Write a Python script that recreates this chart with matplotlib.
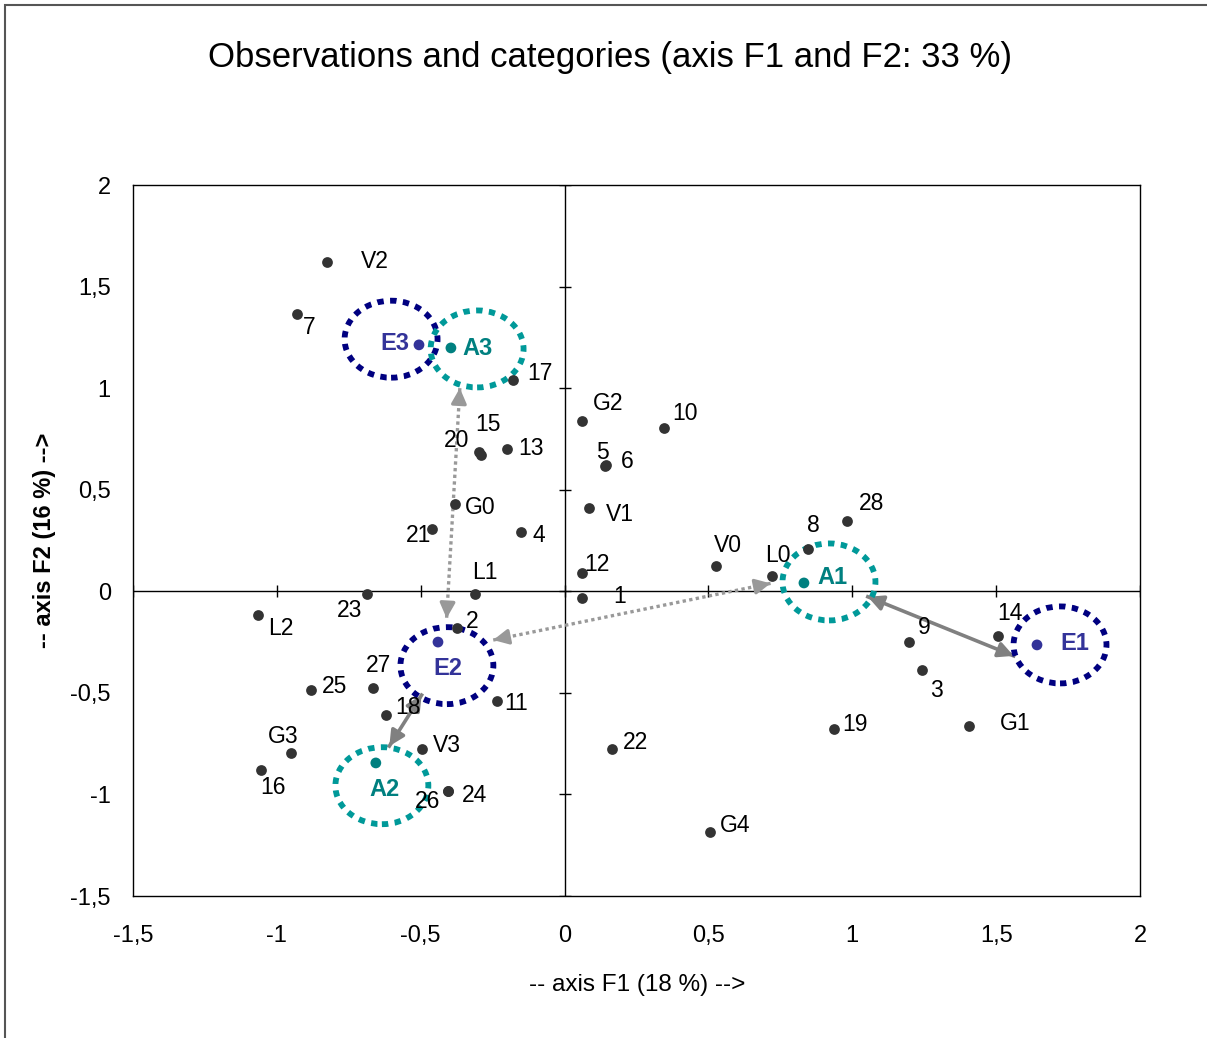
import matplotlib
matplotlib.use('Agg')
import matplotlib.pyplot as plt
from matplotlib.patches import Ellipse, Rectangle
from matplotlib.ticker import FuncFormatter
import numpy as np

plt.rcParams['font.family'] = ['Liberation Sans', 'DejaVu Sans']

# observations (F1, F2)
obs_labels = ['V2', '7', '17', '15', '20', '13', 'G0', '21', '4', 'L1', '23', '2',
              'L2', '27', '25', '18', '11', 'G3', '16', 'V3', '24', '26',
              'G2', '10', '5', '6', 'V1', '12', '1', 'V0', 'L0', '8', '28',
              '9', '3', '14', '19', 'G1', '22', 'G4']
obs_x = [-0.826, -0.930, -0.179, -0.297, -0.290, -0.200, -0.381, -0.461, -0.152, -0.311, -0.687, -0.374,
         -1.066, -0.666, -0.881, -0.621, -0.235, -0.951, -1.055, -0.496, -0.405, -0.405,
         0.060, 0.345, 0.140, 0.144, 0.085, 0.060, 0.060, 0.526, 0.721, 0.846, 0.982,
         1.197, 1.242, 1.506, 0.936, 1.406, 0.165, 0.505]
obs_y = [1.621, 1.364, 1.040, 0.686, 0.671, 0.701, 0.430, 0.307, 0.292, -0.013, -0.013, -0.181,
         -0.117, -0.475, -0.484, -0.608, -0.540, -0.796, -0.880, -0.776, -0.984, -0.984,
         0.838, 0.804, 0.617, 0.622, 0.410, 0.090, -0.033, 0.125, 0.075, 0.208, 0.346,
         -0.250, -0.388, -0.220, -0.678, -0.663, -0.776, -1.185]

# categories (supplementary)
cat_labels = ['E3', 'A3', 'E2', 'A2', 'A1', 'E1']
cat_x = [-0.506, -0.395, -0.440, -0.656, 0.832, 1.642]
cat_y = [1.213, 1.198, -0.250, -0.845, 0.041, -0.264]

xticks = [-1.5, -1, -0.5, 0, 0.5, 1, 1.5, 2]
yticks = [-1.5, -1, -0.5, 0, 0.5, 1, 1.5, 2]

# label offsets in pixels (dx right, dy down) from the point to the text centre
obs_off = {'V2': (48, 0), '7': (12, 13), '17': (27, -7), '15': (9, -27), '20': (-25, -14),
           '13': (24, 0), 'G0': (25, 4), '21': (-13, 7), '4': (18, 4), 'L1': (10, -21),
           '23': (-17, 17), '2': (15, -7), 'L2': (23, 13), '27': (6, -22), '25': (23, -3),
           '18': (22, -7), '11': (19, 3), 'G3': (-8, -16), '16': (12, 17), 'V3': (25, -3),
           '24': (26, 4), '26': (-20, 10), 'G2': (26, -18), '10': (21, -14), '5': (-2, -13),
           '6': (21, -3), 'V1': (31, 7), '12': (15, -9), '1': (38, -1), 'V0': (12, -20),
           'L0': (6, -21), '8': (5, -24), '28': (24, -17), '9': (15, -15), '3': (15, 20),
           '14': (12, -22), '19': (21, -5), 'G1': (46, -2), '22': (23, -6), 'G4': (25, -7)}
cat_off = {'E3': (-24, -1), 'A3': (27, 1), 'E2': (10, 26), 'A2': (9, 27), 'A1': (29, -5), 'E1': (38, -1)}

E_col = '#333399'
A_col = '#008080'
E_ring = '#000080'
A_ring = '#009999'

W, H = 1207, 1038
fig = plt.figure(figsize=(W / 100, H / 100), dpi=100)
ax = fig.add_axes([133 / W, 1 - 896 / H, (1140 - 133) / W, (896 - 185) / H])
ax.set_xlim(-1.5, 2)
ax.set_ylim(-1.5, 2)

for s in ax.spines.values():
    s.set_linewidth(1.0)
    s.set_color('black')

fmt = FuncFormatter(lambda v, p: ('%g' % v).replace('.', ','))
ax.set_xticks(xticks)
ax.set_yticks(yticks)
ax.xaxis.set_major_formatter(fmt)
ax.yaxis.set_major_formatter(fmt)
ax.tick_params(axis='x', length=0, pad=21, labelsize=17)
ax.tick_params(axis='y', length=0, pad=16, labelsize=17)

# zero axes with crossing ticks
ax.axhline(0, color='black', lw=1.0, zorder=1)
ax.axvline(0, color='black', lw=1.0, zorder=1)
ax.plot(xticks, np.zeros(len(xticks)), ls='none', marker='|', ms=9, mew=1.0, color='black', zorder=1)
ax.plot(np.zeros(len(yticks)), yticks, ls='none', marker='_', ms=9, mew=1.0, color='black', zorder=1)

# observation points
ax.scatter(obs_x, obs_y, s=60, color='#333333', zorder=4, linewidths=0)
for lab, x, y in zip(obs_labels, obs_x, obs_y):
    dx, dy = obs_off[lab]
    ax.annotate(lab, (x, y), xytext=(dx * 0.72, -dy * 0.72), textcoords='offset points',
                ha='center', va='center', fontsize=16.5, color='black', zorder=5)

# category points
cat_cols = [E_col if c.startswith('E') else A_col for c in cat_labels]
ax.scatter(cat_x, cat_y, s=60, color=cat_cols, zorder=4, linewidths=0)
for lab, x, y, c in zip(cat_labels, cat_x, cat_y, cat_cols):
    dx, dy = cat_off[lab]
    ax.annotate(lab, (x, y), xytext=(dx * 0.72, -dy * 0.72), textcoords='offset points',
                ha='center', va='center', fontsize=17, fontweight='bold', color=c, zorder=5)

# dotted rings around categories
rings = [((-0.603, 1.241), E_ring), ((-0.304, 1.193), A_ring), ((-0.409, -0.366), E_ring),
         ((-0.635, -0.957), A_ring), ((0.919, 0.046), A_ring), ((1.722, -0.264), E_ring)]
for (cx, cy), col in rings:
    e = Ellipse((cx, cy), 0.323, 0.379, fill=False, edgecolor=col, lw=4.2,
                linestyle=(0, (1.1, 1.1)), zorder=3)
    e.set_capstyle('butt')
    ax.add_patch(e)

# arrows between categories: shaft first, then solid heads at both ends
dotted = (0, (1.0, 1.0))
arrows = [((-0.364, 1.0), (-0.41, -0.133), dotted, '#999999', 2.4),
          ((-0.248, -0.240), (0.716, 0.039), dotted, '#999999', 2.4),
          ((1.054, -0.027), (1.561, -0.318), '-', '#808080', 2.6),
          ((-0.497, -0.511), (-0.609, -0.762), '-', '#808080', 2.6)]
for p0, p1, ls, col, lw in arrows:
    p0 = np.array(p0)
    p1 = np.array(p1)
    ax.plot([p0[0], p1[0]], [p0[1], p1[1]], ls=ls, color=col, lw=lw, zorder=2,
            dash_capstyle='butt')
    d = (p1 - p0) / np.hypot(*(p1 - p0))
    for tip, back in ((p1, p1 - 0.03 * d), (p0, p0 + 0.03 * d)):
        ax.annotate('', xy=tip, xytext=back,
                    arrowprops=dict(arrowstyle='-|>,head_length=0.9,head_width=0.45',
                                    color=col, lw=lw, shrinkA=0, shrinkB=0),
                    zorder=2)

fig.text(610 / W, 1 - 58 / H, 'Observations and categories (axis F1 and F2: 33 %)',
         ha='center', va='center', fontsize=25)
fig.text(637 / W, 1 - 985 / H, '-- axis F1 (18 %) -->', ha='center', va='center', fontsize=17.5)
fig.text(45 / W, 1 - 540 / H, '-- axis F2 (16 %) -->', ha='center', va='center', fontsize=17,
         rotation=90, fontweight='bold')

# chart area frame
fig.patches.append(Rectangle((5 / W, -0.1), 1.5, 1 - 5 / H + 0.1, transform=fig.transFigure,
                             fill=False, edgecolor='#555555', lw=1.5))

fig.savefig('out.png', dpi=100)
